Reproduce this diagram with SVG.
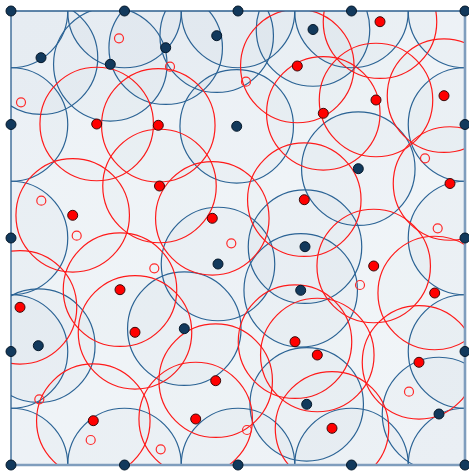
<svg xmlns="http://www.w3.org/2000/svg" width="469" height="471" viewBox="0 0 469 471">
<defs>
<clipPath id="sq"><rect x="11" y="11" width="454" height="454"/></clipPath>
<linearGradient id="bg" x1="0" y1="0" x2="1" y2="1">
<stop offset="0" stop-color="#f0f4f8"/><stop offset="1" stop-color="#f4f7fa"/>
</linearGradient>
<style>
.bc{fill:#1e4a7a;fill-opacity:0.025;stroke:#2c6496;stroke-width:1.2}
.rc{fill:#1e4a7a;fill-opacity:0.01;stroke:#ff1a1a;stroke-width:1.2}
.bd{fill:#12395c;stroke:#05182a;stroke-width:1}
.rd{fill:#ff0000;stroke:#3a0a0a;stroke-width:1}
.hd{fill:none;stroke:#ff2a2a;stroke-width:1.2}
</style>
</defs>
<rect x="0" y="0" width="469" height="471" fill="#ffffff"/>
<rect x="11" y="11" width="454" height="454" fill="url(#bg)"/>
<g id="circles" clip-path="url(#sq)">
<g id="blue-circles">
<circle class="bc" cx="11" cy="11" r="56.75"/>
<circle class="bc" cx="124.5" cy="11" r="56.75"/>
<circle class="bc" cx="238" cy="11" r="56.75"/>
<circle class="bc" cx="351.5" cy="11" r="56.75"/>
<circle class="bc" cx="465" cy="11" r="56.75"/>
<circle class="bc" cx="11" cy="124.5" r="56.75"/>
<circle class="bc" cx="465" cy="124.5" r="56.75"/>
<circle class="bc" cx="11" cy="238" r="56.75"/>
<circle class="bc" cx="465" cy="238" r="56.75"/>
<circle class="bc" cx="11" cy="351.5" r="56.75"/>
<circle class="bc" cx="465" cy="351.5" r="56.75"/>
<circle class="bc" cx="11" cy="465" r="56.75"/>
<circle class="bc" cx="124.5" cy="465" r="56.75"/>
<circle class="bc" cx="238" cy="465" r="56.75"/>
<circle class="bc" cx="351.5" cy="465" r="56.75"/>
<circle class="bc" cx="465" cy="465" r="56.75"/>
<circle class="bc" cx="41" cy="57.7" r="56.75"/>
<circle class="bc" cx="110.3" cy="64.3" r="56.75"/>
<circle class="bc" cx="165.7" cy="47.7" r="56.75"/>
<circle class="bc" cx="216.7" cy="35.7" r="56.75"/>
<circle class="bc" cx="313" cy="29.5" r="56.75"/>
<circle class="bc" cx="236.7" cy="126.3" r="56.75"/>
<circle class="bc" cx="358.3" cy="168.7" r="56.75"/>
<circle class="bc" cx="305" cy="246.7" r="56.75"/>
<circle class="bc" cx="218" cy="264" r="56.75"/>
<circle class="bc" cx="300.7" cy="290.3" r="56.75"/>
<circle class="bc" cx="184.3" cy="328.7" r="56.75"/>
<circle class="bc" cx="38.3" cy="345.7" r="56.75"/>
<circle class="bc" cx="306.7" cy="404.3" r="56.75"/>
<circle class="bc" cx="439" cy="414" r="56.75"/>
</g>
<g id="red-circles">
<circle class="rc" cx="380" cy="21.7" r="56.75"/>
<circle class="rc" cx="297.3" cy="66" r="56.75"/>
<circle class="rc" cx="444" cy="95.7" r="56.75"/>
<circle class="rc" cx="376" cy="100" r="56.75"/>
<circle class="rc" cx="323.3" cy="113.3" r="56.75"/>
<circle class="rc" cx="96.7" cy="124" r="56.75"/>
<circle class="rc" cx="158.3" cy="125.3" r="56.75"/>
<circle class="rc" cx="72.7" cy="215.3" r="56.75"/>
<circle class="rc" cx="159.5" cy="186" r="56.75"/>
<circle class="rc" cx="212.3" cy="218.3" r="56.75"/>
<circle class="rc" cx="304.3" cy="199.7" r="56.75"/>
<circle class="rc" cx="450" cy="183.5" r="56.75"/>
<circle class="rc" cx="373.7" cy="266" r="56.75"/>
<circle class="rc" cx="434.7" cy="293" r="56.75"/>
<circle class="rc" cx="120" cy="289.7" r="56.75"/>
<circle class="rc" cx="20" cy="307.3" r="56.75"/>
<circle class="rc" cx="135" cy="332.3" r="56.75"/>
<circle class="rc" cx="93.3" cy="420.7" r="56.75"/>
<circle class="rc" cx="215.7" cy="380.7" r="56.75"/>
<circle class="rc" cx="195.7" cy="419" r="56.75"/>
<circle class="rc" cx="295" cy="341.7" r="56.75"/>
<circle class="rc" cx="317.3" cy="355" r="56.75"/>
<circle class="rc" cx="419" cy="362.3" r="56.75"/>
<circle class="rc" cx="332" cy="428.3" r="56.75"/>
</g>
</g>
<g id="frame">
<path d="M11 465 H465 V11" fill="none" stroke="#7f9dbd" stroke-width="2.6"/>
<path d="M11 465 V11 H465" fill="none" stroke="#2c5f8f" stroke-width="1.3"/>
</g>
<g id="hollow">
<circle id="h1" class="hd" cx="119" cy="38.3" r="4.5"/>
<circle id="h2" class="hd" cx="21" cy="102.3" r="4.5"/>
<circle id="h3" class="hd" cx="170" cy="66.7" r="4.5"/>
<circle id="h4" class="hd" cx="246" cy="81.7" r="4.5"/>
<circle id="h5" class="hd" cx="425" cy="158.3" r="4.5"/>
<circle id="h6" class="hd" cx="437.7" cy="228.3" r="4.5"/>
<circle id="h7" class="hd" cx="360" cy="285" r="4.5"/>
<circle id="h8" class="hd" cx="41.3" cy="200.7" r="4.5"/>
<circle id="h9" class="hd" cx="76.7" cy="235.7" r="4.5"/>
<circle id="h10" class="hd" cx="154.3" cy="268.3" r="4.5"/>
<circle id="h11" class="hd" cx="231.3" cy="243.3" r="4.5"/>
<circle id="h12" class="hd" cx="39.3" cy="399.3" r="4.5"/>
<circle id="h13" class="hd" cx="90.7" cy="440" r="4.5"/>
<circle id="h14" class="hd" cx="160.7" cy="449.3" r="4.5"/>
<circle id="h15" class="hd" cx="247" cy="430" r="4.5"/>
<circle id="h16" class="hd" cx="409" cy="391.7" r="4.5"/>
</g>
<g id="red-dots">
<circle class="rd" cx="380" cy="21.7" r="5"/>
<circle class="rd" cx="297.3" cy="66" r="5"/>
<circle class="rd" cx="444" cy="95.7" r="5"/>
<circle class="rd" cx="376" cy="100" r="5"/>
<circle class="rd" cx="323.3" cy="113.3" r="5"/>
<circle class="rd" cx="96.7" cy="124" r="5"/>
<circle class="rd" cx="158.3" cy="125.3" r="5"/>
<circle class="rd" cx="72.7" cy="215.3" r="5"/>
<circle class="rd" cx="159.5" cy="186" r="5"/>
<circle class="rd" cx="212.3" cy="218.3" r="5"/>
<circle class="rd" cx="304.3" cy="199.7" r="5"/>
<circle class="rd" cx="450" cy="183.5" r="5"/>
<circle class="rd" cx="373.7" cy="266" r="5"/>
<circle class="rd" cx="434.7" cy="293" r="5"/>
<circle class="rd" cx="120" cy="289.7" r="5"/>
<circle class="rd" cx="20" cy="307.3" r="5"/>
<circle class="rd" cx="135" cy="332.3" r="5"/>
<circle class="rd" cx="93.3" cy="420.7" r="5"/>
<circle class="rd" cx="215.7" cy="380.7" r="5"/>
<circle class="rd" cx="195.7" cy="419" r="5"/>
<circle class="rd" cx="295" cy="341.7" r="5"/>
<circle class="rd" cx="317.3" cy="355" r="5"/>
<circle class="rd" cx="419" cy="362.3" r="5"/>
<circle class="rd" cx="332" cy="428.3" r="5"/>
</g>
<g id="blue-dots">
<circle class="bd" cx="11" cy="11" r="5"/>
<circle class="bd" cx="124.5" cy="11" r="5"/>
<circle class="bd" cx="238" cy="11" r="5"/>
<circle class="bd" cx="351.5" cy="11" r="5"/>
<circle class="bd" cx="465" cy="11" r="5"/>
<circle class="bd" cx="11" cy="124.5" r="5"/>
<circle class="bd" cx="465" cy="124.5" r="5"/>
<circle class="bd" cx="11" cy="238" r="5"/>
<circle class="bd" cx="465" cy="238" r="5"/>
<circle class="bd" cx="11" cy="351.5" r="5"/>
<circle class="bd" cx="465" cy="351.5" r="5"/>
<circle class="bd" cx="11" cy="465" r="5"/>
<circle class="bd" cx="124.5" cy="465" r="5"/>
<circle class="bd" cx="238" cy="465" r="5"/>
<circle class="bd" cx="351.5" cy="465" r="5"/>
<circle class="bd" cx="465" cy="465" r="5"/>
<circle class="bd" cx="41" cy="57.7" r="5"/>
<circle class="bd" cx="110.3" cy="64.3" r="5"/>
<circle class="bd" cx="165.7" cy="47.7" r="5"/>
<circle class="bd" cx="216.7" cy="35.7" r="5"/>
<circle class="bd" cx="313" cy="29.5" r="5"/>
<circle class="bd" cx="236.7" cy="126.3" r="5"/>
<circle class="bd" cx="358.3" cy="168.7" r="5"/>
<circle class="bd" cx="305" cy="246.7" r="5"/>
<circle class="bd" cx="218" cy="264" r="5"/>
<circle class="bd" cx="300.7" cy="290.3" r="5"/>
<circle class="bd" cx="184.3" cy="328.7" r="5"/>
<circle class="bd" cx="38.3" cy="345.7" r="5"/>
<circle class="bd" cx="306.7" cy="404.3" r="5"/>
<circle class="bd" cx="439" cy="414" r="5"/>
</g>
</svg>
